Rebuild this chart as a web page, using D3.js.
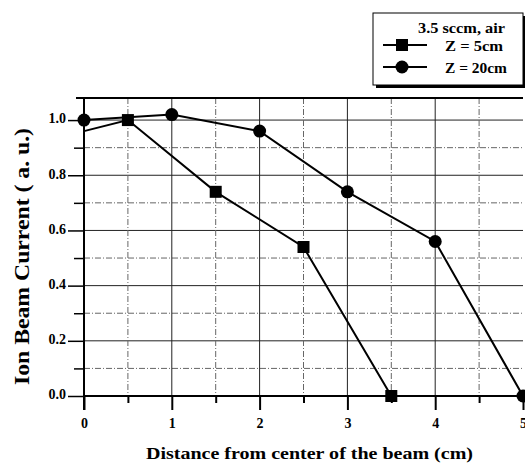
<!DOCTYPE html>
<html>
<head>
<meta charset="utf-8">
<script src="https://cdn.jsdelivr.net/npm/d3@7"></script>
<style>
	body { margin: 0; background: #fff; }
	text { font-family: "Liberation Serif", "Times New Roman", serif; font-weight: bold; fill: #000; }
</style>
</head>
<body>
<div id="chart"></div>
<script>
// Data
const distance_5cm = [0, 0.5, 1.5, 2.5, 3.5];
const current_5cm = [0.96, 1.0, 0.74, 0.54, 0.0];
const distance_20cm = [0, 1, 2, 3, 4, 5];
const current_20cm = [1.0, 1.02, 0.96, 0.74, 0.56, 0.0];
const x_ticks = [0, 1, 2, 3, 4, 5];
const y_ticks = [0.0, 0.2, 0.4, 0.6, 0.8, 1.0];
const legend_title = "3.5 sccm, air";
const series_names = ["Z = 5cm", "Z = 20cm"];

const W = 525, H = 465;
const margin = {top: 98, right: 2, bottom: 69, left: 84};

const svg = d3.select("#chart").append("svg")
	.attr("width", W)
	.attr("height", H);

const g = svg.append("g")
	.attr("transform", `translate(${margin.left},${margin.top})`);

const w = W - margin.left - margin.right;
const h = H - margin.top - margin.bottom;

const x = d3.scaleLinear().domain([0, 5]).range([0, w - 0]);
const y = d3.scaleLinear().domain([0, 1.08]).range([h, 0]);

// grid lines
const gridY = d3.range(1, 11).map(d => d / 10);
g.selectAll(".gy").data(gridY).join("line")
	.attr("x1", 0).attr("x2", w)
	.attr("y1", d => y(d)).attr("y2", d => y(d))
	.attr("stroke", d => (Math.round(d * 10) % 2 == 0) ? "#222" : "#666")
	.attr("stroke-width", 1)
	.attr("stroke-dasharray", d => (Math.round(d * 10) % 2 == 0) ? null : "6,2,1,2");

const gridX = d3.range(1, 10).map(d => d / 2);
g.selectAll(".gx").data(gridX).join("line")
	.attr("y1", 0).attr("y2", h)
	.attr("x1", d => x(d)).attr("x2", d => x(d))
	.attr("stroke", d => (d % 1 == 0) ? "#222" : "#666")
	.attr("stroke-width", 1)
	.attr("stroke-dasharray", d => (d % 1 == 0) ? null : "6,2,1,2");

// top frame line
g.append("line")
	.attr("x1", -8).attr("x2", w)
	.attr("y1", 0).attr("y2", 0)
	.attr("stroke", "#000").attr("stroke-width", 2);

// axes
const xAxis = d3.axisBottom(x).tickValues(x_ticks).tickFormat(d3.format("d")).tickSize(14).tickPadding(7);
const xAxisMinor = d3.axisBottom(x).tickValues(gridX.filter(d => d % 1 != 0)).tickFormat("").tickSize(7);
const yAxis = d3.axisLeft(y).tickValues(y_ticks).tickFormat(d3.format(".1f")).tickSize(16).tickPadding(2);
const yAxisMinor = d3.axisLeft(y).tickValues([0.1, 0.3, 0.5, 0.7, 0.9]).tickFormat("").tickSize(10);

[xAxis, xAxisMinor].forEach(a => {
	g.append("g")
		.attr("transform", `translate(0,${h})`)
		.call(a)
		.call(s => s.select(".domain").attr("stroke-width", 2).attr("d", `M0,0H${w}`))
		.call(s => s.selectAll("line").attr("stroke-width", 2))
		.call(s => s.selectAll("text").attr("font-size", 14).attr("dy", "0.8em"));
});

[yAxis, yAxisMinor].forEach(a => {
	g.append("g")
		.call(a)
		.call(s => s.select(".domain").attr("stroke-width", 2).attr("d", `M0,0V${h + 14}`))
		.call(s => s.selectAll("line").attr("stroke-width", 1.5))
		.call(s => s.selectAll("text").attr("font-size", 14).attr("dy", "0.2em"));
});

// axis titles
svg.append("text")
	.attr("x", 146)
	.attr("y", 459)
	.attr("font-size", 16)
	.attr("textLength", 327)
	.attr("lengthAdjust", "spacingAndGlyphs")
	.text("Distance from center of the beam (cm)");

svg.append("text")
	.attr("transform", "translate(29,385) rotate(-90)")
	.attr("font-size", 21)
	.attr("textLength", 257)
	.attr("lengthAdjust", "spacingAndGlyphs")
	.text("Ion Beam Current ( a. u.)");

// series
const line = d3.line().x(d => x(d[0])).y(d => y(d[1]));
const s5 = distance_5cm.map((d, i) => [d, current_5cm[i]]);
const s20 = distance_20cm.map((d, i) => [d, current_20cm[i]]);

g.append("path").datum(s5).attr("d", line)
	.attr("fill", "none").attr("stroke", "#000").attr("stroke-width", 2);
g.append("path").datum(s20).attr("d", line)
	.attr("fill", "none").attr("stroke", "#000").attr("stroke-width", 2);

// the first square sits hidden under the axis in the picture
g.selectAll(".sq").data(s5.slice(1)).join("rect")
	.attr("x", d => x(d[0]) - 6)
	.attr("y", d => y(d[1]) - 6)
	.attr("width", 12).attr("height", 12)
	.attr("fill", "#000");

g.selectAll(".ci").data(s20).join("circle")
	.attr("cx", d => x(d[0]))
	.attr("cy", d => y(d[1]))
	.attr("r", 6.5)
	.attr("fill", "#000");

// legend
const leg = svg.append("g").attr("transform", "translate(373,13)");
leg.append("rect").attr("x", 3).attr("y", 3).attr("width", 150).attr("height", 72).attr("fill", "#000");
leg.append("rect").attr("x", 0).attr("y", 0).attr("width", 150).attr("height", 72)
	.attr("fill", "#fff").attr("stroke", "#000").attr("stroke-width", 1);
leg.append("text").attr("x", 45).attr("y", 20)
	.attr("font-size", 15).attr("textLength", 87).attr("lengthAdjust", "spacingAndGlyphs")
	.text(legend_title);

series_names.forEach((name, i) => {
	const ly = 32 + i * 22;
	leg.append("line").attr("x1", 10).attr("x2", 54).attr("y1", ly).attr("y2", ly)
		.attr("stroke", "#000").attr("stroke-width", 2);
	if (i == 0) {
		leg.append("rect").attr("x", 23).attr("y", ly - 6).attr("width", 12).attr("height", 12).attr("fill", "#000");
	} else {
		leg.append("circle").attr("cx", 29).attr("cy", ly).attr("r", 6.5).attr("fill", "#000");
	}
	leg.append("text").attr("x", 72).attr("y", ly + 6)
		.attr("font-size", 15).attr("textLength", i == 0 ? 58 : 62).attr("lengthAdjust", "spacingAndGlyphs")
		.text(name);
});
</script>
</body>
</html>
